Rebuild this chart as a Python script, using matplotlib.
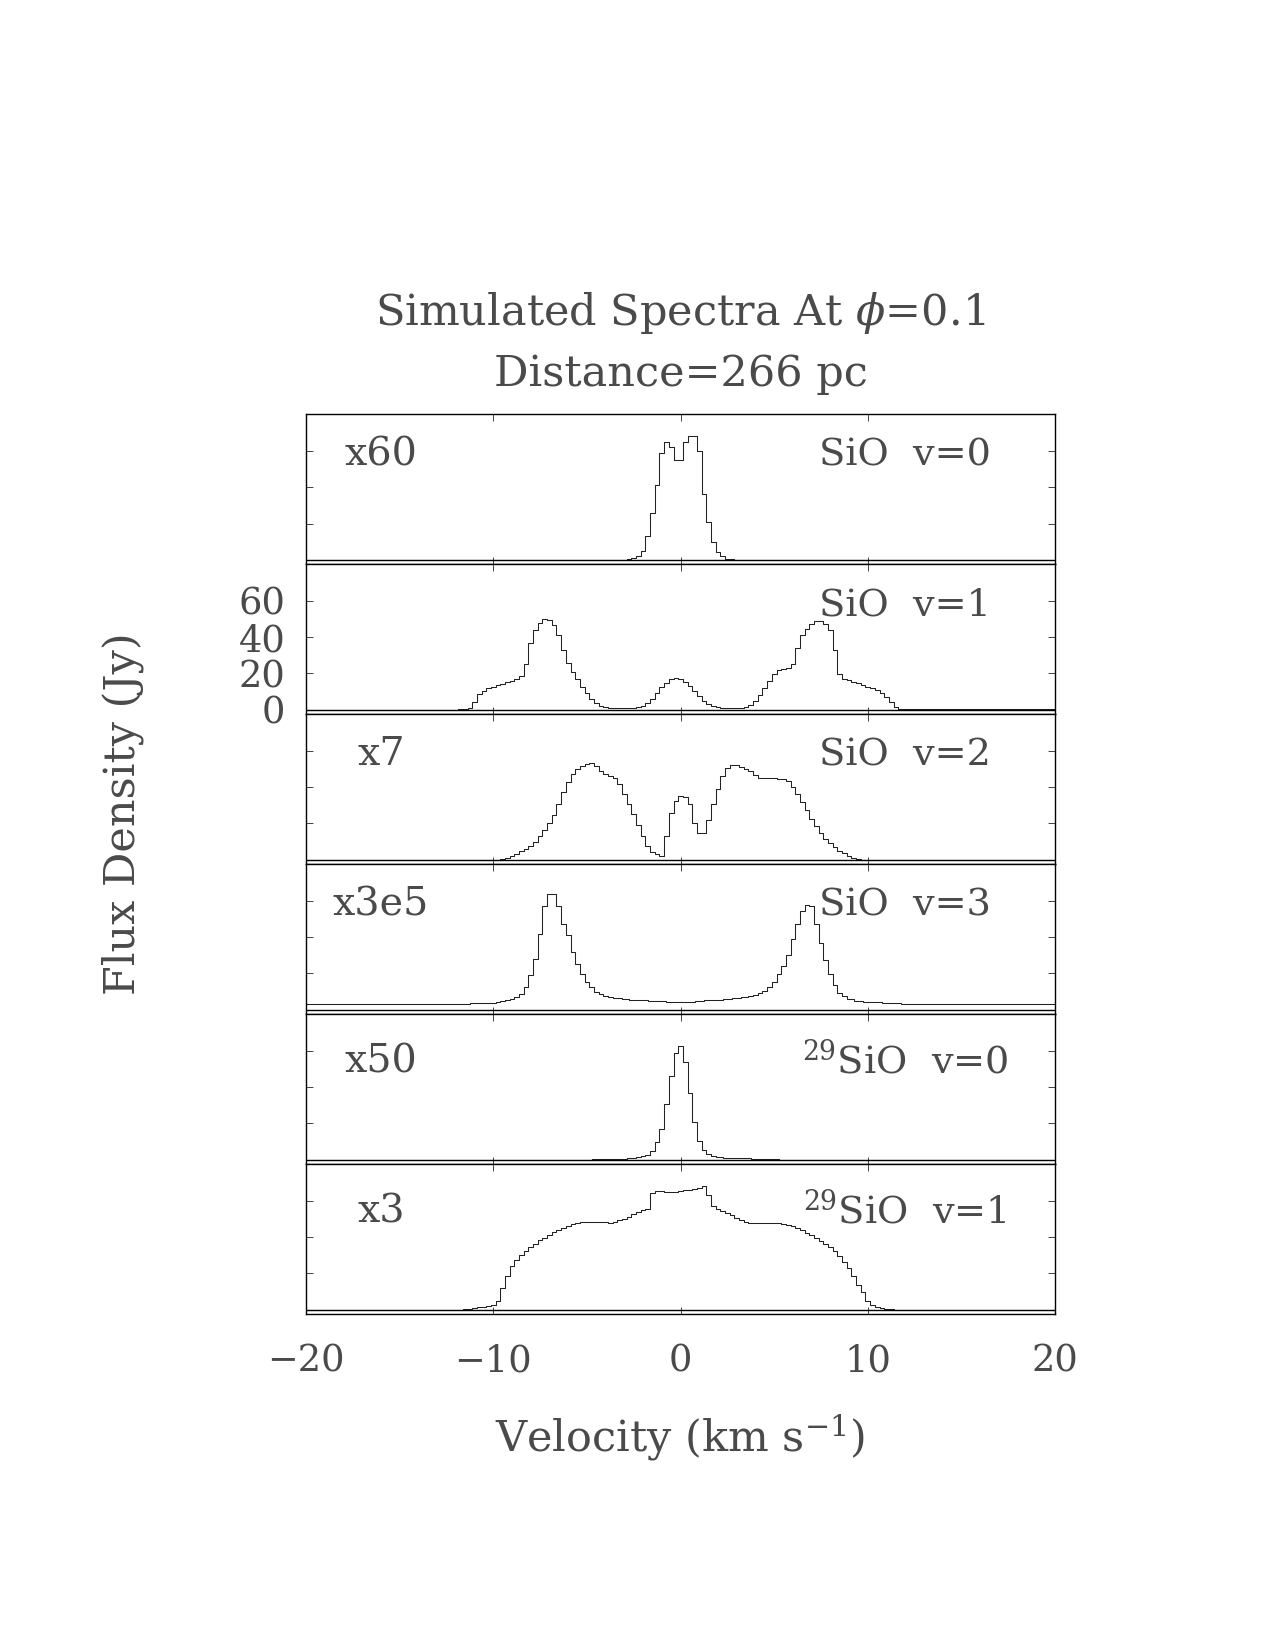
import matplotlib
matplotlib.use('Agg')
import matplotlib.pyplot as plt
import numpy as np

# velocity channel grid (km/s) for the evenly sampled spectra
dv = 0.25

# SiO v=0, scaled x60, channels from -3 km/s
sio_v0_start = -3.0
sio_v0 = [0, 0.2, 0.8, 2.0, 5, 13, 26, 41, 59, 65, 62, 55, 55, 65, 68.5, 68, 60,
          36, 21, 10, 4.5, 2, 0.7, 0.2, 0]

# SiO v=1, unscaled, channels from -12 km/s
sio_v1_start = -12.0
sio_v1 = [0.1, 0.3, 0.6, 1.2, 4.5, 8.5, 10.5, 11.8, 12.5, 13.5, 14.3, 15.2, 16.1, 17, 18.5,
          25, 37, 44, 48, 50, 49.5, 46.5, 41, 33, 26, 21, 16.8, 12.5, 9, 6, 3.7, 2.3, 1.6,
          1.2, 1.1, 1.0, 1.0, 1.0, 1.1, 1.3, 2.2,
          3.5, 5.8, 9, 12.5, 15, 16.8, 17.3, 16.8, 15.5, 13, 10.3, 7.5, 5, 3, 1.9, 1.4,
          1.1, 1.0, 1.0, 1.0, 1.1, 1.4,
          2.5, 5, 8, 12, 16, 19.5, 22, 22.3, 23, 25, 34, 41, 44.5, 47.5, 49, 48.8, 47.5, 44,
          33, 19.5, 17, 16.3, 15.5, 14.7, 13.8, 12.8, 11.8, 10.8, 9.3, 7.3, 4.5, 1.5, 0.5, 0.2]

# SiO v=2, scaled x7, channels from -10 km/s
sio_v2_start = -10.0
sio_v2 = [0, 0.1, 0.4, 1.2, 2.2, 3.4, 4.6, 6, 7.8, 10, 13, 16.3, 20, 24.5, 31, 37.5, 43,
          47.5, 50, 51.8, 53,
          53.2, 51.5, 48.8, 47.2, 46.2, 45, 42, 36.5, 30.5, 25, 19, 13, 7.5, 4.2, 3.0, 2.3,
          13, 26, 32.5, 35,
          34.5, 30.5, 20, 14.5, 14.5, 22, 31, 39, 46, 50.5, 52.3, 52, 51.2, 50, 48.8, 47,
          45.3, 45, 45, 44.9,
          44.8, 44.3, 43.2, 40, 36, 31.8, 27.3, 22.6, 18.4, 15, 11.5, 9, 6.8, 5, 3.6, 2.3,
          1.1, 0.4, 0.1, 0]

# SiO v=3, scaled x3e5 (uneven sampling in the wings)
sio_v3_vel = [-20, -16, -13, -12, -11.5, -11, -10.5, -10,
              -9.75, -9.5, -9.25, -9, -8.75, -8.5, -8.25, -8, -7.75, -7.5, -7.25, -7,
              -6.75, -6.5, -6.25, -6, -5.75, -5.5, -5.25, -5, -4.75, -4.5, -4.25, -4,
              -3.75, -3.5, -3.25, -3,
              -2.5, -2, -1.5, -1, -0.5, 0, 0.5, 1, 1.5, 2, 2.5, 3, 3.5,
              3.75, 4, 4.25, 4.5, 4.75, 5, 5.25, 5.5, 5.75, 6, 6.25, 6.5, 6.75, 7, 7.25,
              7.5, 7.75, 8, 8.25, 8.5, 8.75, 9,
              9.5, 10, 10.5, 11, 11.5, 12, 13, 16, 20]
sio_v3 = [2.9, 3.0, 3.2, 3.3, 3.4, 3.5, 3.7, 3.9,
          4.2, 4.6, 5.2, 5.8, 7, 8.8, 12.5, 19, 28, 42, 57, 64, 64, 57, 47.5, 41, 32, 25,
          19.5, 15.5, 12.3, 10, 8.6, 7.8, 7.1, 6.7, 6.3, 6.0,
          5.5, 5.1, 4.8, 4.6, 4.5, 4.4, 4.5, 4.8, 5.2, 5.6, 6.0, 6.3, 6.9,
          7.4, 8.0, 9, 10.5, 12.5, 15.5, 19.5, 24, 30, 39, 47, 54.5, 58, 57, 47.5, 37,
          27.5, 19.5, 13.5, 9.5, 7.5, 6,
          4.8, 4.3, 4.0, 3.7, 3.5, 3.4, 3.2, 3.0, 2.9]

# 29SiO v=0, scaled x50
si29_v0_vel = [-5, -4.5, -4, -3.5, -3, -2.75, -2.5, -2.25, -2, -1.75, -1.5, -1.25, -1,
               -0.75, -0.5, -0.25, 0, 0.25, 0.5, 0.75, 1, 1.25, 1.5, 1.75, 2, 2.5, 3,
               3.5, 4, 4.5, 5, 5.5]
si29_v0 = [0.1, 0.2, 0.3, 0.4, 0.6, 0.8, 1.0, 1.3, 1.8, 2.8, 5, 9.5, 17, 31, 46, 59,
           62.5, 54, 37, 21, 10.5, 5.5, 3, 2, 1.4, 1.0, 0.8, 0.7, 0.5, 0.4, 0.2, 0.1]

# 29SiO v=1, scaled x3, channels from -12 km/s
si29_v1_start = -12.0
si29_v1 = [0, 0.1, 0.3, 0.6, 0.9, 1.3, 1.7, 2.1, 2.6, 5, 12, 18.8, 24,
           27.4, 30, 32.6, 34.5, 36.5, 38.5, 39.8, 41.2, 42.6, 43.8, 45, 46.3,
           47.2, 47.9, 48.4, 48.6, 48.6, 48.4, 48.3, 48.2, 47.8, 48.2, 49.2, 50.2,
           51.2, 52.5, 53.6, 54.8, 55.8, 64.3, 65.7, 65.4, 65.1, 64.9, 65.1, 65.4,
           65.8, 66.1, 66.5, 67.2, 68, 63, 57, 55.6, 54.5, 53.3, 52, 50.8,
           49.6, 48.6, 47.9, 47.7, 47.8, 47.9, 47.9, 47.8, 47.6, 47.2, 46.6, 46,
           45, 43.9, 42.5, 41, 39.5, 38.1, 36.2, 34.5, 32.3, 29.5, 26.3, 23,
           18.5, 13.5, 9.5, 4.8, 2.6, 1.6, 1.0, 0.6, 0.3, 0.1, 0, 0]

scale_labels = ['x60', '', 'x7', 'x3e5', 'x50', 'x3']
line_labels = ['SiO  v=0', 'SiO  v=1', 'SiO  v=2', 'SiO  v=3',
               r'$^{29}$SiO  v=0', r'$^{29}$SiO  v=1']


def channels(start, flux):
    return start + dv * np.arange(len(flux))


spectra = [
    (channels(sio_v0_start, sio_v0), sio_v0),
    (channels(sio_v1_start, sio_v1), sio_v1),
    (channels(sio_v2_start, sio_v2), sio_v2),
    (np.array(sio_v3_vel), sio_v3),
    (np.array(si29_v0_vel), si29_v0),
    (channels(si29_v1_start, si29_v1), si29_v1),
]

plt.rcParams['font.family'] = ['DejaVu Serif']
plt.rcParams['mathtext.fontset'] = 'dejavuserif'
txt_color = '#4a4a4a'

fig, axes = plt.subplots(6, 1, figsize=(12.75, 16.5), dpi=100, sharex=True)
fig.subplots_adjust(left=0.24, right=0.8275, top=0.749, bottom=0.2036, hspace=0)

for i, ax in enumerate(axes):
    vel, flux = spectra[i]
    flux = np.asarray(flux, dtype=float)
    # pad the spectrum out to the plot edges with its end values
    v_full = np.concatenate([[-20.0], vel, [20.0]])
    f_full = np.concatenate([[flux[0]], flux, [flux[-1]]])
    ax.step(v_full, f_full, where='mid', color='#222222', lw=0.75)
    ax.axhline(0, color='black', lw=1.0)

    ax.set_xlim(-20, 20)
    ax.set_ylim(-2.4, 80.3)
    ax.set_xticks([-20, -10, 0, 10, 20])
    ax.set_yticks([0, 20, 40, 60])
    ax.tick_params(direction='in', length=5, width=0.7, top=True, right=True,
                   labelsize=26.5, labelcolor=txt_color, color='#444444')
    ax.tick_params(axis='x', pad=21)
    ax.tick_params(axis='y', pad=15)
    for sp in ax.spines.values():
        sp.set_linewidth(1.0)
    if i != 1:
        ax.set_yticklabels([])

    base = 52 if i < 4 else 48
    if scale_labels[i]:
        ax.text(0.1, base, scale_labels[i], transform=ax.get_yaxis_transform(),
                ha='center', va='baseline', fontsize=28.5, color=txt_color)
    ax.text(0.8, base, line_labels[i], transform=ax.get_yaxis_transform(),
            ha='center', va='baseline', fontsize=27.5, color=txt_color)

fig.text(0.5337, 0.810, r'Simulated Spectra At $\phi$=0.1', ha='center', va='center',
         fontsize=31, color=txt_color)
fig.text(0.5337, 0.7736, 'Distance=266 pc', ha='center', va='center',
         fontsize=31, color=txt_color)
fig.text(0.5337, 0.129, r'Velocity (km s$^{-1}$)', ha='center', va='center',
         fontsize=31, color=txt_color)
fig.text(0.0965, 0.507, 'Flux Density (Jy)', rotation=90, ha='center', va='center',
         fontsize=31, color=txt_color)

plt.savefig('out.png', dpi=100)
